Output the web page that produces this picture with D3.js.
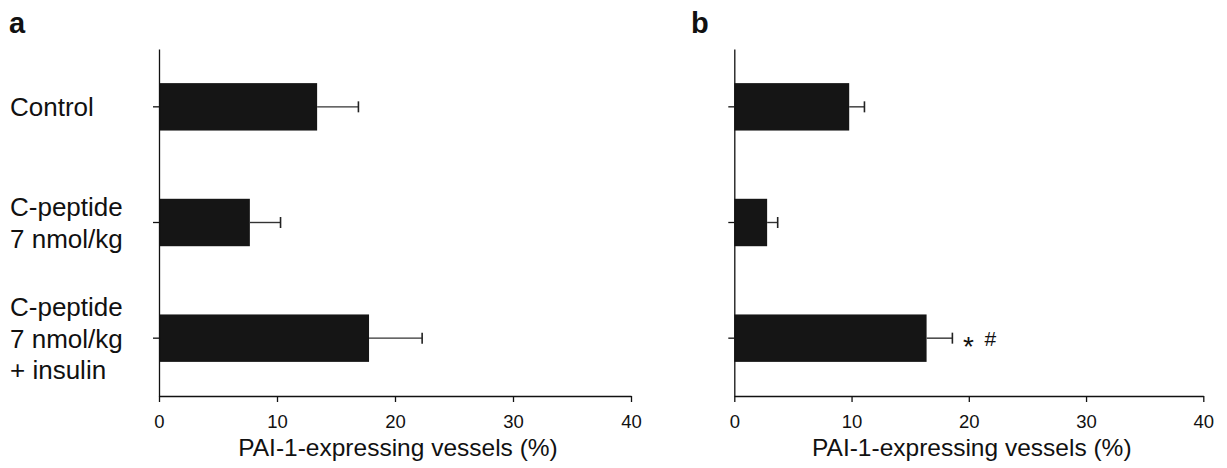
<!DOCTYPE html>
<html lang="en">
<head>
    <meta charset="UTF-8">
    <title>PAI-1-expressing vessels</title>
    <script src="https://cdn.jsdelivr.net/npm/d3@7"></script>
    <style>
        body { margin: 0; background: #fff; }
        svg { display: block; font-family: "Liberation Sans", Arial, Helvetica, sans-serif; }
        .axis path, .axis line { stroke: #111; stroke-width: 1.3px; }
        .axis text { font-size: 18.5px; fill: #111; }
        .cat { font-size: 26px; fill: #111; }
        .title { font-size: 24.5px; fill: #111; }
        .panel-label { font-size: 29px; font-weight: bold; fill: #111; }
    </style>
</head>
<body>
<script>
    // categories (multi-line labels)
    const categories = ["Control", "C-peptide 7 nmol/kg", "C-peptide 7 nmol/kg + insulin"];
    const categoryLines = [["Control"], ["C-peptide", "7 nmol/kg"], ["C-peptide", "7 nmol/kg", "+ insulin"]];

    // panel a
    const meansA = [13.4, 7.7, 17.8];
    const errA = [3.5, 2.6, 4.5];
    // panel b
    const meansB = [9.8, 2.8, 16.4];
    const errB = [1.3, 0.9, 2.2];
    const notesB = ["", "", "* #"];

    const xTicks = [0, 10, 20, 30, 40];
    const xTitle = "PAI-1-expressing vessels (%)";

    const width = 1227, height = 468;
    const svg = d3.select("body").append("svg")
        .attr("width", width)
        .attr("height", height);

    const y = d3.scaleBand()
        .domain(categories)
        .range([49, 396])
        .paddingInner(0.59)
        .paddingOuter(0.295);

    // category labels (left of panel a only)
    const catG = svg.append("g");
    categories.forEach((c, i) => {
        const lines = categoryLines[i];
        const cy = y(c) + y.bandwidth() / 2;
        const lh = 31.5;
        const first = cy + 9.5 - (lines.length - 1) * lh / 2;
        const t = catG.append("text").attr("class", "cat").attr("x", 10);
        lines.forEach((ln, j) => {
            t.append("tspan").attr("x", 10).attr("y", first + j * lh).text(ln);
        });
    });

    function drawPanel(label, x0, x1, labelX, means, errs, notes) {
        const x = d3.scaleLinear().domain([0, 40]).range([x0, x1]);
        const g = svg.append("g");

        g.append("text")
            .attr("class", "panel-label")
            .attr("x", labelX)
            .attr("y", 33)
            .text(label);

        // bars
        g.selectAll("rect.bar")
            .data(categories)
            .enter().append("rect")
            .attr("class", "bar")
            .attr("x", x(0))
            .attr("y", d => y(d))
            .attr("width", (d, i) => x(means[i]) - x(0))
            .attr("height", y.bandwidth())
            .attr("fill", "#151515");

        // error bars (upper only)
        const eb = g.selectAll("g.err")
            .data(categories)
            .enter().append("g")
            .attr("class", "err")
            .attr("transform", d => `translate(0,${y(d) + y.bandwidth() / 2})`);
        eb.append("line")
            .attr("x1", (d, i) => x(means[i]))
            .attr("x2", (d, i) => x(means[i] + errs[i]))
            .attr("stroke", "#333")
            .attr("stroke-width", 1.4);
        eb.append("line")
            .attr("x1", (d, i) => x(means[i] + errs[i]))
            .attr("x2", (d, i) => x(means[i] + errs[i]))
            .attr("y1", -5.5)
            .attr("y2", 5.5)
            .attr("stroke", "#222")
            .attr("stroke-width", 1.6);

        // significance marks
        if (notes) {
            categories.forEach((c, i) => {
                if (!notes[i]) return;
                const parts = notes[i].split(" ");
                const cy = y(c) + y.bandwidth() / 2;
                const bx = x(means[i] + errs[i]);
                g.append("text")
                    .attr("x", bx + 16)
                    .attr("y", cy + 18)
                    .attr("text-anchor", "middle")
                    .style("font-size", "28px")
                    .attr("fill", "#111")
                    .text(parts[0]);
                g.append("text")
                    .attr("x", bx + 38)
                    .attr("y", cy + 8)
                    .attr("text-anchor", "middle")
                    .style("font-size", "21px")
                    .attr("fill", "#111")
                    .text(parts[1]);
            });
        }

        // axes
        g.append("g")
            .attr("class", "axis")
            .attr("transform", "translate(0,396)")
            .call(d3.axisBottom(x).tickValues(xTicks).tickSize(6).tickSizeOuter(0).tickPadding(13))
            .call(a => a.selectAll("text").attr("font-family", null).attr("font-size", null));

        g.append("g")
            .attr("class", "axis")
            .attr("transform", `translate(${x(0)},0)`)
            .call(d3.axisLeft(y).tickSize(6).tickSizeOuter(0).tickFormat(""));

        g.append("text")
            .attr("class", "title")
            .attr("x", (x0 + x1) / 2 + 3)
            .attr("y", 456)
            .attr("text-anchor", "middle")
            .text(xTitle);
    }

    drawPanel("a", 159, 631, 9, meansA, errA, null);
    drawPanel("b", 734.3, 1203.3, 691, meansB, errB, notesB);
</script>
</body>
</html>
